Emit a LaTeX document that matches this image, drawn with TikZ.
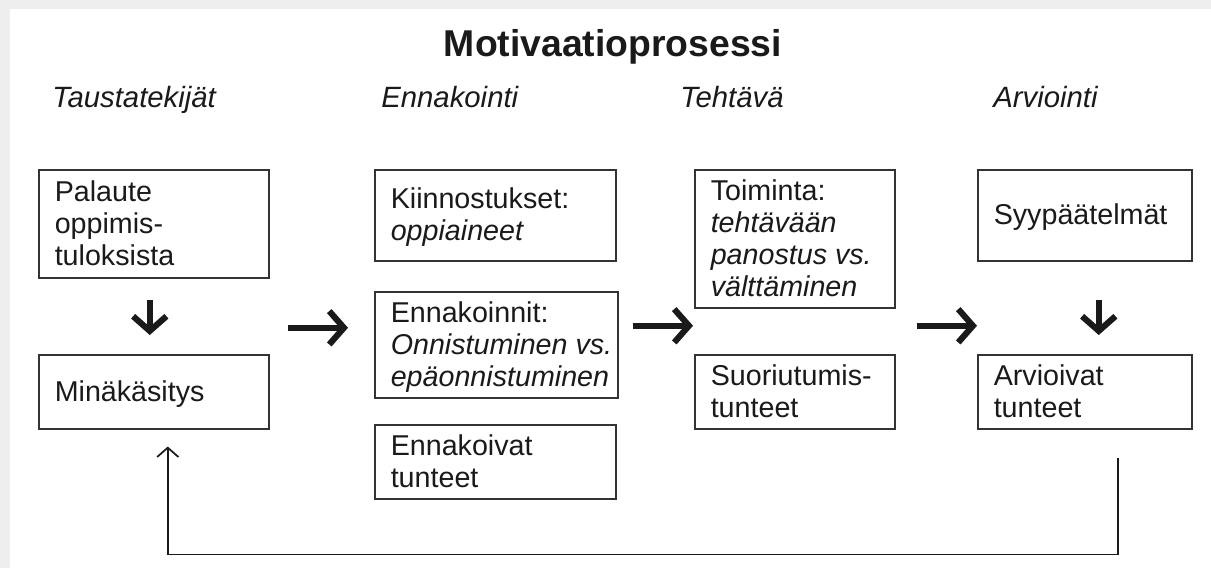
\documentclass[tikz,border=0pt]{standalone}
\usepackage{fontspec}
\setmainfont{Liberation Sans}
\usetikzlibrary{arrows.meta,calc}
\definecolor{bg}{HTML}{EEEEEE}
\definecolor{ink}{HTML}{1A1A1A}
\definecolor{frame}{HTML}{333333}
\newcommand\bodyfont{\fontsize{21.5}{24}\selectfont}
\newcommand\bt[2]{\makebox[#1][l]{\hspace{12pt}\raisebox{-2.4pt}[\height][\depth]{\begin{tabular}{@{}l@{}}#2\end{tabular}}}}
\begin{document}
\begin{tikzpicture}[x=0.75pt,y=-0.75pt,
  box/.style={draw=frame, line width=1.15pt, anchor=north west,
    inner xsep=0pt, inner ysep=0pt, font=\bodyfont, text=ink},
  head/.style={anchor=base west, font=\fontsize{22}{24}\selectfont\itshape, text=ink, inner sep=0pt},
  title/.style={anchor=base, font=\fontsize{28}{30}\selectfont\bfseries, text=ink, inner sep=0pt},
  big/.style={draw=ink, line width=4.6pt,
    -{Straight Barb[length=11pt,width=25pt,line cap=butt,line join=miter]}},
  fb/.style={draw=ink, line width=1.3pt,
    -{Straight Barb[length=7pt,width=16pt]}},
]
\fill[bg] (0,0) rectangle (1211,568);
\fill[white] (10,9) rectangle (1211,568);
\useasboundingbox (0,0) rectangle (1211,568);

\node[title] (title) at (613,56) {Motivaatioprosessi};
\node[head] (h1) at (52,107) {Taustatekijät};
\node[head] (h2) at (381,107) {Ennakointi};
\node[head] (h3) at (680,107) {Tehtävä};
\node[head] (h4) at (993,107) {Arviointi};

% column 1
\node[box, minimum height=81pt] (A) at (38,169)
  {\bt{172.5pt}{Palaute\\oppimis-\\tuloksista}};
\node[box, minimum height=55.5pt] (B) at (38,354)
  {\bt{172.5pt}{Minäkäsitys}};
% column 2
\node[box, minimum height=68.25pt] (C) at (374,169)
  {\bt{180.75pt}{Kiinnostukset:\\\itshape oppiaineet}};
\node[box, minimum height=79.5pt] (D) at (374,291)
  {\bt{182.25pt}{Ennakoinnit:\\\itshape Onnistuminen vs.\\\itshape epäonnistuminen}};
\node[box, minimum height=55.5pt] (E) at (374,424)
  {\bt{180.75pt}{Ennakoivat\\tunteet}};
% column 3
\node[box, minimum height=103.5pt] (F) at (694,169)
  {\bt{150pt}{Toiminta:\\\itshape tehtävään\\\itshape panostus vs.\\\itshape välttäminen}};
\node[box, minimum height=55.5pt] (G) at (694,354)
  {\bt{150pt}{Suoriutumis-\\tunteet}};
% column 4
\node[box, minimum height=68.25pt] (H) at (977,169)
  {\bt{160.5pt}{Syypäätelmät}};
\node[box, minimum height=55.5pt] (I) at (977,354)
  {\bt{160.5pt}{Arvioivat\\tunteet}};

% arrows
\draw[big] ($(A.south)+(-4,21)$) -- ($(B.north)+(-4,-19)$);
\draw[big] ($(A.east |- D.west)+(18,-17)$) -- ($(D.west)+(-26,-17)$);
\draw[big] ($(D.east)+(14,-19)$) -- ($(F.west |- D.east)+(-1,-19)$);
\draw[big] ($(F.east |- D.east)+(21,-19)$) -- ($(I.west |- D.east)+(0,-19)$);
\draw[big] ($(H.south)+(14,38)$) -- ($(I.north)+(14,-19)$);

% feedback loop
\coordinate (fbA) at ($(I.south)+(33,28)$);
\coordinate (fbB) at ($(I.south)+(33,125)$);
\draw[fb] (fbA) -- (fbB) -| ($(B.south)+(14,17)$);
\end{tikzpicture}
\end{document}
